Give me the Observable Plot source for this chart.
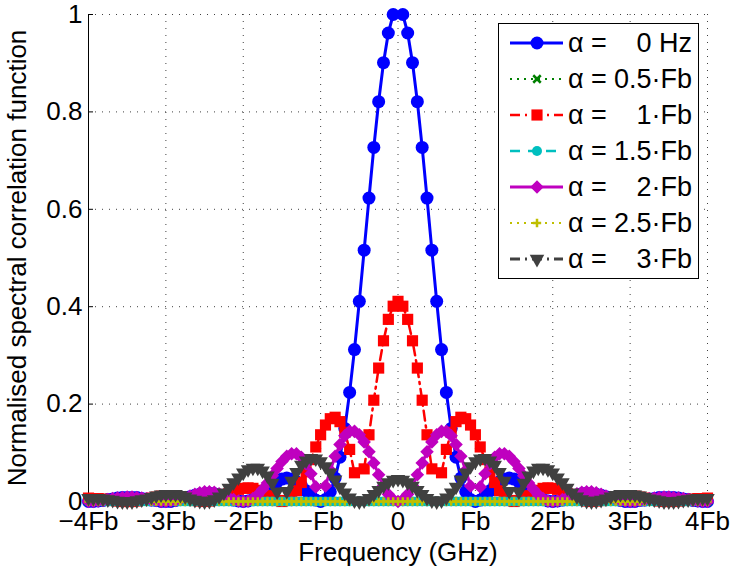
<!DOCTYPE html>
<html><head><meta charset="utf-8">
<script src="https://cdn.jsdelivr.net/npm/d3@7"></script>
<script src="https://cdn.jsdelivr.net/npm/@observablehq/plot@0.6"></script>
<style>
body{margin:0;background:#fff;}
#wrap{position:relative;width:730px;height:567px;font-family:"Liberation Sans",Arial,sans-serif;}
#chart svg{display:block;}
#legend{position:absolute;left:498px;top:23px;width:201px;height:256px;box-sizing:border-box;border:1.5px solid #000;background:#fff;padding-top:1px;}
.row{display:flex;align-items:center;height:36px;}
.row svg{flex:none;display:block;}
.lab{font-size:27px;margin-left:3px;white-space:pre;}
.val{flex:1;text-align:right;font-size:27px;padding-right:6px;white-space:pre;}
</style></head>
<body><div id="wrap"><div id="chart"></div><div id="legend"></div></div>
<script>
// Frequency bins, in units of Fb/16 (from -4Fb to +4Fb)
const freqBins = [
 -64,-63,-62,-61,-60,-59,-58,-57,-56,-55,-54,-53,-52,-51,-50,-49,
 -48,-47,-46,-45,-44,-43,-42,-41,-40,-39,-38,-37,-36,-35,-34,-33,
 -32,-31,-30,-29,-28,-27,-26,-25,-24,-23,-22,-21,-20,-19,-18,-17,
 -16,-15,-14,-13,-12,-11,-10,-9,-8,-7,-6,-5,-4,-3,-2,-1,
 0,
 1,2,3,4,5,6,7,8,9,10,11,12,13,14,15,16,
 17,18,19,20,21,22,23,24,25,26,27,28,29,30,31,32,
 33,34,35,36,37,38,39,40,41,42,43,44,45,46,47,48,
 49,50,51,52,53,54,55,56,57,58,59,60,61,62,63,64
];

// alpha = 0 Hz
const alpha0 = [
 0,0,.001,.002,.004,.005,.007,.008,.008,.008,.008,.006,.005,.003,.002,0,
 0,0,.002,.004,.007,.010,.013,.015,.016,.017,.016,.013,.010,.007,.003,.001,
 0,.001,.004,.010,.017,.025,.033,.040,.046,.048,.046,.041,.033,.022,.012,.003,
 0,.004,.020,.048,.091,.150,.224,.312,.411,.516,.623,.727,.821,.901,.962,1.000,
 null,
 1.000,.962,.901,.821,.727,.623,.516,.411,.312,.224,.150,.091,.048,.020,.004,0,
 .003,.012,.022,.033,.041,.046,.048,.046,.040,.033,.025,.017,.010,.004,.001,0,
 .001,.003,.007,.010,.013,.016,.017,.016,.015,.013,.010,.007,.004,.002,0,0,
 0,.002,.003,.005,.006,.008,.008,.008,.008,.007,.005,.004,.002,.001,0,0
];

// alpha = 0.5 Fb
const alpha05 = [
 0,0,0,0,0,0,0,0,0,0,0,0,0,0,0,0,
 0,0,0,0,0,0,0,0,0,0,0,0,0,0,0,0,
 0,0,0,0,0,0,0,0,0,0,0,0,0,0,0,0,
 0,0,0,0,0,0,0,0,0,0,0,0,0,0,0,0,
 0,
 0,0,0,0,0,0,0,0,0,0,0,0,0,0,0,0,
 0,0,0,0,0,0,0,0,0,0,0,0,0,0,0,0,
 0,0,0,0,0,0,0,0,0,0,0,0,0,0,0,0,
 0,0,0,0,0,0,0,0,0,0,0,0,0,0,0,0
];

// alpha = 1 Fb
const alpha1 = [
 .007,.006,.006,.005,.004,.002,.001,0,0,0,.001,.003,.005,.007,.009,.011,
 .012,.012,.011,.009,.007,.005,.002,.001,0,.001,.003,.006,.011,.016,.021,.025,
 .027,.028,.027,.023,.018,.012,.006,.002,0,.002,.009,.022,.039,.061,.086,.112,
 .137,.157,.170,.173,.164,.142,.107,.059,null,.067,.137,.208,.274,.330,.374,.401,
 .411,
 .401,.374,.330,.274,.208,.137,.067,null,.059,.107,.142,.164,.173,.170,.157,.137,
 .112,.086,.061,.039,.022,.009,.002,0,.002,.006,.012,.018,.023,.027,.028,.027,
 .025,.021,.016,.011,.006,.003,.001,0,.001,.002,.005,.007,.009,.011,.012,.012,
 .011,.009,.007,.005,.003,.001,0,0,0,.001,.002,.004,.005,.006,.006,.007
];

// alpha = 1.5 Fb
const alpha15 = [
 0,0,0,0,0,0,0,0,0,0,0,0,0,0,0,0,
 0,0,0,0,0,0,0,0,0,0,0,0,0,0,0,0,
 0,0,0,0,0,0,0,0,0,0,0,0,0,0,0,0,
 0,0,0,0,0,0,0,0,0,0,0,0,0,0,0,0,
 0,
 0,0,0,0,0,0,0,0,0,0,0,0,0,0,0,0,
 0,0,0,0,0,0,0,0,0,0,0,0,0,0,0,0,
 0,0,0,0,0,0,0,0,0,0,0,0,0,0,0,0,
 0,0,0,0,0,0,0,0,0,0,0,0,0,0,0,0
];

// alpha = 2 Fb
const alpha2 = [
 0,0,.001,.002,.004,.006,.007,.008,.009,.009,.008,.007,.005,.003,.002,0,
 0,.001,.002,.005,.008,.011,.015,.018,.020,.020,.019,.016,.013,.008,.004,.001,
 0,.001,.006,.014,.025,.038,.053,.068,.082,.093,.098,.098,.091,.077,.057,.030,
 null,.032,.064,.093,.117,.135,.144,.144,.137,.122,.102,.079,.055,.033,.015,.004,
 0,
 .004,.015,.033,.055,.079,.102,.122,.137,.144,.144,.135,.117,.093,.064,.032,null,
 .030,.057,.077,.091,.098,.098,.093,.082,.068,.053,.038,.025,.014,.006,.001,0,
 .001,.004,.008,.013,.016,.019,.020,.020,.018,.015,.011,.008,.005,.002,.001,0,
 0,.002,.003,.005,.007,.008,.009,.009,.008,.007,.006,.004,.002,.001,0,0
];

// alpha = 2.5 Fb
const alpha25 = [
 0,0,0,0,0,0,0,0,0,0,0,0,0,0,0,0,
 0,0,0,0,0,0,0,0,0,0,0,0,0,0,0,0,
 0,0,0,0,0,0,0,0,0,0,0,0,0,0,0,0,
 0,0,0,0,0,0,0,0,0,0,0,0,0,0,0,0,
 0,
 0,0,0,0,0,0,0,0,0,0,0,0,0,0,0,0,
 0,0,0,0,0,0,0,0,0,0,0,0,0,0,0,0,
 0,0,0,0,0,0,0,0,0,0,0,0,0,0,0,0,
 0,0,0,0,0,0,0,0,0,0,0,0,0,0,0,0
];

// alpha = 3 Fb
const alpha3 = [
 .007,.007,.007,.006,.004,.003,.001,0,0,0,.002,.004,.006,.009,.012,.014,
 .015,.015,.015,.013,.010,.006,.003,.001,0,.001,.004,.010,.018,.028,.039,.049,
 .059,.066,.069,.069,.063,.053,.038,.020,null,.021,.042,.060,.075,.084,.089,.088,
 .082,.072,.059,.045,.030,.018,.008,.002,0,.002,.007,.015,.023,.032,.039,.044,
 .046,
 .044,.039,.032,.023,.015,.007,.002,0,.002,.008,.018,.030,.045,.059,.072,.082,
 .088,.089,.084,.075,.060,.042,.021,null,.020,.038,.053,.063,.069,.069,.066,.059,
 .049,.039,.028,.018,.010,.004,.001,0,.001,.003,.006,.010,.013,.015,.015,.015,
 .014,.012,.009,.006,.004,.002,0,0,0,.001,.003,.004,.006,.007,.007,.007
];

const alphaLabels = ["0 Hz", "0.5\u00b7Fb", "1\u00b7Fb", "1.5\u00b7Fb", "2\u00b7Fb", "2.5\u00b7Fb", "3\u00b7Fb"];
const seriesValues = [alpha0, alpha05, alpha1, alpha15, alpha2, alpha25, alpha3];

const xTicks = [-4, -3, -2, -1, 0, 1, 2, 3, 4];
const xTickLabels = ["\u22124Fb", "\u22123Fb", "\u22122Fb", "\u2212Fb", "0", "Fb", "2Fb", "3Fb", "4Fb"];
const yTicks = [0, 0.2, 0.4, 0.6, 0.8, 1];
const yTickLabels = ["0", "0.2", "0.4", "0.6", "0.8", "1"];
const xDomain = [-4, 4];
const yDomain = [0, 1];

// styles (MATLAB-like)
const styles = [
  {color: "#0000ff", width: 3,   dash: null,        symbol: "circle",   r: 6.5, fill: true},
  {color: "#008000", width: 2,   dash: "2,5",       symbol: "times",    r: 3.5, fill: false, sw: 2.5},
  {color: "#ff0000", width: 2.5, dash: "10,5,2,5",  symbol: "square",   r: 6.3, fill: true},
  {color: "#00bfbf", width: 2.5, dash: "10,8",      symbol: "circle",   r: 5,   fill: true},
  {color: "#bf00bf", width: 3,   dash: null,        symbol: "square",   r: 5.4, fill: true, rotate: 45},
  {color: "#bfbf00", width: 2,   dash: "2,5",       symbol: "plus",     r: 2.8, fill: false, sw: 2.5},
  {color: "#404040", width: 3,   dash: "10,5,2,5",  symbol: "triangle", r: 5.4, fill: true, rotate: 180}
];

const tables = seriesValues.map(vals => freqBins.map((b, i) => ({f: b / 16, v: vals[i]})));

const seriesMarks = [];
tables.forEach((tbl, i) => {
  const s = styles[i];
  seriesMarks.push(Plot.line(tbl, {x: "f", y: "v", stroke: s.color, strokeWidth: s.width,
    strokeDasharray: s.dash || undefined, strokeLinejoin: "round"}));
  const dotOpts = {x: "f", y: "v", symbol: s.symbol, r: s.r, rotate: s.rotate || 0};
  if (s.fill) { dotOpts.fill = s.color; dotOpts.stroke = "none"; }
  else { dotOpts.stroke = s.color; dotOpts.strokeWidth = s.sw; dotOpts.fill = "none"; }
  seriesMarks.push(Plot.dot(tbl.filter(d => d.v != null), dotOpts));
});

const gridStyle = {stroke: "#404040", strokeOpacity: 1, strokeWidth: 1, strokeDasharray: "1,6"};

const chart = Plot.plot({
  width: 730,
  height: 567,
  marginLeft: 88,
  marginRight: 23,
  marginTop: 14,
  marginBottom: 66,
  style: {fontFamily: "'Liberation Sans', Arial, sans-serif", fontSize: "26px", background: "#fff", color: "#000"},
  x: {domain: xDomain},
  y: {domain: yDomain},
  marks: [
    Plot.gridX(xTicks, gridStyle),
    Plot.gridY(yTicks, gridStyle),
    Plot.ruleX([xDomain[0]], {stroke: "#000", strokeWidth: 1}),
    Plot.ruleY([yDomain[0]], {stroke: "#000", strokeWidth: 1}),
    Plot.axisX(xTicks, {tickSize: -5, tickPadding: 15,
      tickFormat: d => xTickLabels[xTicks.indexOf(d)],
      label: "Frequency (GHz)", labelAnchor: "center", labelArrow: "none", labelOffset: 59}),
    Plot.axisY(yTicks, {tickSize: -5, tickPadding: 11,
      tickFormat: d => yTickLabels[yTicks.indexOf(d)],
      label: "Normalised spectral correlation function", labelAnchor: "center", labelArrow: "none", labelOffset: 81}),
    ...seriesMarks
  ]
});
document.getElementById("chart").append(chart);

// legend
const symMap = {circle: d3.symbolCircle, times: d3.symbolTimes, square: d3.symbolSquare, plus: d3.symbolPlus, triangle: d3.symbolTriangle};
const legend = document.getElementById("legend");
alphaLabels.forEach((lab, i) => {
  const s = styles[i];
  const row = document.createElement("div");
  row.className = "row";
  const svg = d3.create("svg").attr("width", 66).attr("height", 36);
  svg.append("line").attr("x1", 11).attr("x2", 64).attr("y1", 18).attr("y2", 18)
    .attr("stroke", s.color).attr("stroke-width", s.width)
    .attr("stroke-dasharray", s.dash || null);
  const p = svg.append("path")
    .attr("d", d3.symbol(symMap[s.symbol], Math.PI * s.r * s.r)())
    .attr("transform", `translate(38,18) rotate(${s.rotate || 0})`);
  if (s.fill) p.attr("fill", s.color);
  else p.attr("fill", "none").attr("stroke", s.color).attr("stroke-width", s.sw);
  row.append(svg.node());
  const a = document.createElement("span"); a.className = "lab"; a.textContent = "\u03b1 =";
  const v = document.createElement("span"); v.className = "val"; v.textContent = lab;
  row.append(a, v);
  legend.append(row);
});
</script>
</body></html>
